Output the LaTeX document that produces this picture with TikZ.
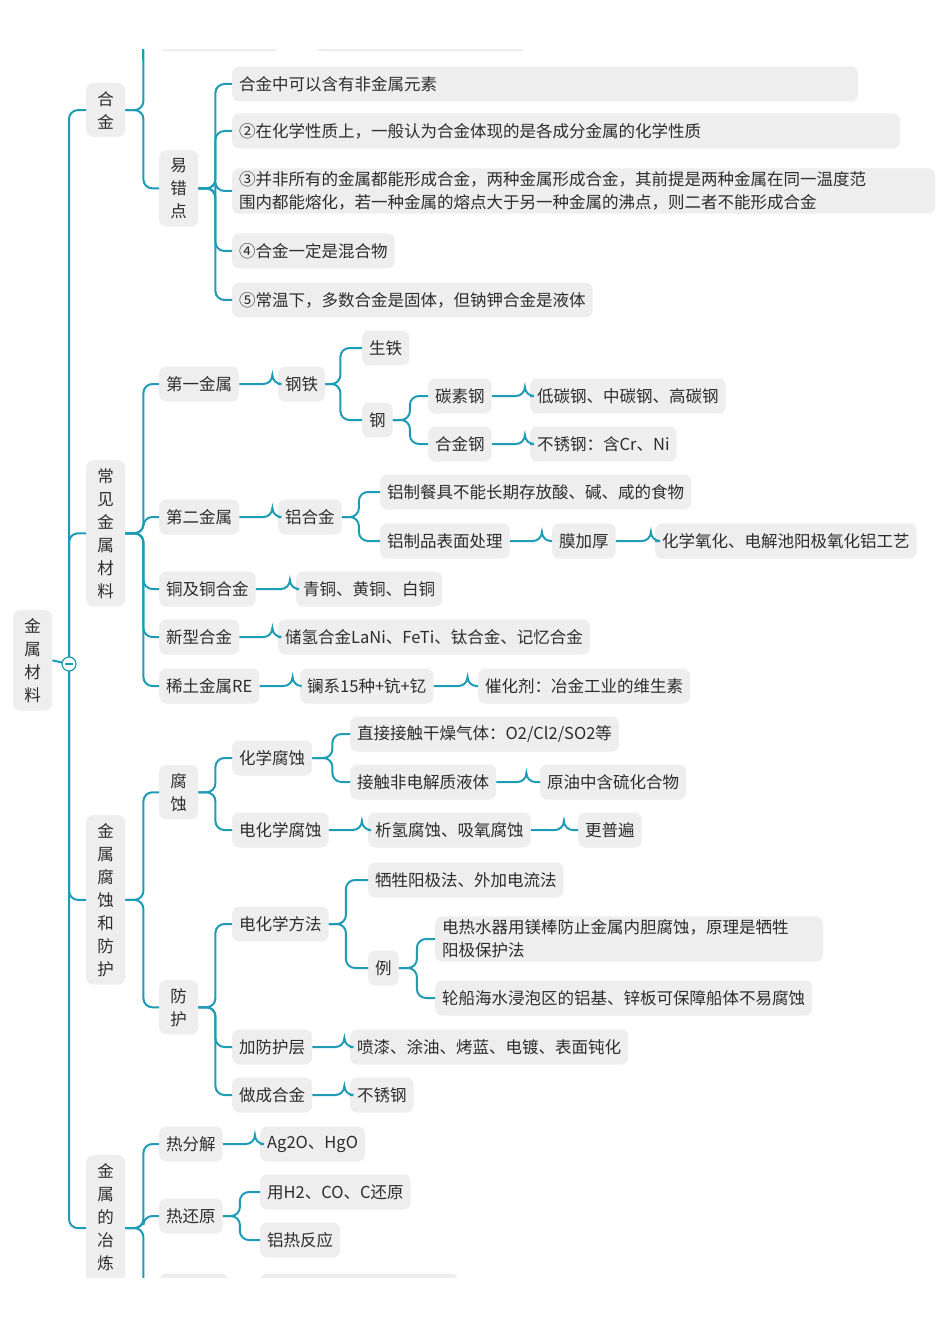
\documentclass[tikz,border=0pt]{standalone}
\usepackage{fontspec}
\setmainfont{Noto Sans CJK SC}
\definecolor{jinshuxian}{RGB}{30,155,181}
\definecolor{jinshuhe}{RGB}{238,238,238}
\definecolor{jinshuzi}{RGB}{45,45,45}
\tikzset{
  leaf/.style={fill=jinshuhe, rounded corners=7pt, anchor=west, inner xsep=7pt,
    minimum height=35pt, text=jinshuzi, font=\fontsize{16.5}{23}\selectfont, align=left},
  vleaf/.style={leaf, anchor=north west, text width=17pt, inner xsep=11pt, inner ysep=8pt, align=center},
  linkline/.style={draw=jinshuxian, line width=2pt, rounded corners=9pt}
}
\newcommand\zhi[3]{\draw[linkline] (#1.east) -- ++(#2,0) |- (#3.west);}
\begin{document}
\begin{tikzpicture}[x=1pt,y=-1pt]
\useasboundingbox (0,0) rectangle (950,1329);
\clip (0,50) rectangle (950,1277);
% root
\node[vleaf] (root) at (13,610) {金\\属\\材\\料};
\node[vleaf] (hejin) at (86,83) {合\\金};
\node[vleaf] (changjian) at (86,460) {常\\见\\金\\属\\材\\料};
\node[vleaf] (fushi) at (86,815) {金\\属\\腐\\蚀\\和\\防\\护};
\node[vleaf] (yelian) at (86,1155) {金\\属\\的\\冶\\炼\\\phantom{金}};
\draw[linkline] (root.east) -- (69,664);
\draw[linkline] (69,664) |- (hejin.west);
\draw[linkline] (69,664) |- (changjian.west);
\draw[linkline] (69,664) |- (fushi.west);
\draw[linkline] (69,664) |- (yelian.west);
\node[circle, draw=jinshuxian, line width=1.2pt, fill=white, minimum size=14pt, inner sep=0pt] (fold) at (69,664) {};
\draw[jinshuxian, line width=1.2pt] ([xshift=-4pt]fold.center) -- ([xshift=4pt]fold.center);
% 合金
\node[leaf, minimum width=121pt] (hjA) at (159,34) {\phantom{合}};
\node[leaf, minimum width=211pt] (hjB) at (315,34) {\phantom{合}};
\node[vleaf] (yicuo) at (159,150) {易\\错\\点};
\zhi{hejin}{18}{hjA}
\zhi{hejin}{18}{yicuo}
\draw[linkline] (143,60) -- (143,34);
\node[leaf, text width=612pt] (yc1) at (232,84) {合金中可以含有非金属元素};
\node[leaf, text width=654pt] (yc2) at (232,131) {②在化学性质上，一般认为合金体现的是各成分金属的化学性质};
\node[leaf, text width=689pt] (yc3) at (232,191) {③并非所有的金属都能形成合金，两种金属形成合金，其前提是两种金属在同一温度范\\围内都能熔化，若一种金属的熔点大于另一种金属的沸点，则二者不能形成合金};
\node[leaf] (yc4) at (232,251) {④合金一定是混合物};
\node[leaf] (yc5) at (232,300) {⑤常温下，多数合金是固体，但钠钾合金是液体};
\foreach \k in {yc1,yc2,yc3,yc4,yc5} {\zhi{yicuo}{17}{\k}}
% 常见金属材料
\node[leaf] (diyi) at (159,384) {第一金属};
\node[leaf] (gangtie) at (278,384) {钢铁};
\node[leaf] (shengtie) at (362,348) {生铁};
\node[leaf] (gang) at (362,420) {钢};
\node[leaf] (tansu) at (428,396) {碳素钢};
\node[leaf] (hejingang) at (428,444) {合金钢};
\node[leaf] (ditan) at (530,396) {低碳钢、中碳钢、高碳钢};
\node[leaf] (buxiu) at (530,444) {不锈钢：含Cr、Ni};
\node[leaf] (dier) at (159,517) {第二金属};
\node[leaf] (lvhejin) at (278,517) {铝合金};
\node[leaf] (canju) at (380,492) {铝制餐具不能长期存放酸、碱、咸的食物};
\node[leaf] (biaomian) at (380,541) {铝制品表面处理};
\node[leaf] (mojiahou) at (552,541) {膜加厚};
\node[leaf] (yanghua) at (655,541) {化学氧化、电解池阳极氧化铝工艺};
\node[leaf] (tong) at (159,589) {铜及铜合金};
\node[leaf] (qingtong) at (296,589) {青铜、黄铜、白铜};
\node[leaf] (xinxing) at (159,637) {新型合金};
\node[leaf] (chuqing) at (278,637) {储氢合金LaNi、FeTi、钛合金、记忆合金};
\node[leaf] (xitu) at (159,686) {稀土金属RE};
\node[leaf] (lanxi) at (300,686) {镧系15种+钪+钇};
\node[leaf] (cuihua) at (478,686) {催化剂：冶金工业的维生素};
\foreach \k in {diyi,dier,tong,xinxing,xitu} {\zhi{changjian}{18}{\k}}
\zhi{diyi}{33}{gangtie}
\zhi{gangtie}{15}{shengtie}
\zhi{gangtie}{15}{gang}
\zhi{gang}{17}{tansu}
\zhi{gang}{17}{hejingang}
\zhi{tansu}{33}{ditan}
\zhi{hejingang}{33}{buxiu}
\zhi{dier}{33}{lvhejin}
\zhi{lvhejin}{17}{canju}
\zhi{lvhejin}{17}{biaomian}
\zhi{biaomian}{32}{mojiahou}
\zhi{mojiahou}{35}{yanghua}
\zhi{tong}{34}{qingtong}
\zhi{xinxing}{33}{chuqing}
\zhi{xitu}{33}{lanxi}
\zhi{lanxi}{34}{cuihua}
% 金属腐蚀和防护
\node[vleaf] (fs) at (159,765) {腐\\蚀};
\node[vleaf] (fh) at (159,980) {防\\护};
\zhi{fushi}{18}{fs}
\zhi{fushi}{18}{fh}
\node[leaf] (huaxue) at (232,758) {化学腐蚀};
\node[leaf] (ganzao) at (350,734) {直接接触干燥气体：O2/Cl2/SO2等};
\node[leaf] (feidian) at (350,782) {接触非电解质液体};
\node[leaf] (yuanyou) at (540,782) {原油中含硫化合物};
\node[leaf] (dianhua) at (232,830) {电化学腐蚀};
\node[leaf] (xiqing) at (368,830) {析氢腐蚀、吸氧腐蚀};
\node[leaf] (pubian) at (578,830) {更普遍};
\zhi{fs}{17}{huaxue}
\zhi{fs}{17}{dianhua}
\zhi{huaxue}{20}{ganzao}
\zhi{huaxue}{20}{feidian}
\zhi{feidian}{30}{yuanyou}
\zhi{dianhua}{33}{xiqing}
\zhi{xiqing}{33}{pubian}
\node[leaf] (dhfangfa) at (232,924) {电化学方法};
\node[leaf] (xisheng) at (368,880) {牺牲阳极法、外加电流法};
\node[leaf] (li) at (368,968) {例};
\node[leaf, text width=374pt] (reshui) at (435,939) {电热水器用镁棒防止金属内胆腐蚀，原理是牺牲\\阳极保护法};
\node[leaf] (lunchuan) at (435,998) {轮船海水浸泡区的铝基、锌板可保障船体不易腐蚀};
\node[leaf] (fanghu) at (232,1047) {加防护层};
\node[leaf] (penqi) at (350,1047) {喷漆、涂油、烤蓝、电镀、表面钝化};
\node[leaf] (zuocheng) at (232,1095) {做成合金};
\node[leaf] (buxiugang) at (350,1095) {不锈钢};
\foreach \k in {dhfangfa,fanghu,zuocheng} {\zhi{fh}{17}{\k}}
\zhi{dhfangfa}{17}{xisheng}
\zhi{dhfangfa}{17}{li}
\zhi{li}{18}{reshui}
\zhi{li}{18}{lunchuan}
\zhi{fanghu}{32}{penqi}
\zhi{zuocheng}{32}{buxiugang}
% 金属的冶炼
\node[leaf] (refenjie) at (159,1144) {热分解};
\node[leaf] (ag) at (260,1144) {Ag2O、HgO};
\node[leaf] (rehuanyuan) at (159,1216) {热还原};
\node[leaf] (yongh) at (260,1192) {用H2、CO、C还原};
\node[leaf] (lvre) at (260,1240) {铝热反应};
\node[leaf, minimum width=69pt] (ylC) at (159,1291) {\phantom{热}};
\node[leaf, minimum width=198pt] (ylD) at (260,1291) {\phantom{热}};
\foreach \k in {refenjie,rehuanyuan,ylC} {\zhi{yelian}{18}{\k}}
\zhi{refenjie}{32}{ag}
\zhi{rehuanyuan}{17}{yongh}
\zhi{rehuanyuan}{17}{lvre}
\zhi{ylC}{32}{ylD}
\end{tikzpicture}
\end{document}
